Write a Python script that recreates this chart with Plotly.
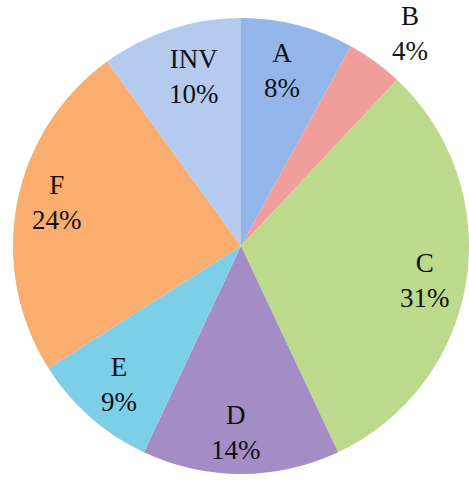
import math
import plotly.graph_objects as go

# Share of each category (percent)
categories = ["A", "B", "C", "D", "E", "F", "INV"]
shares = [8, 4, 31, 14, 9, 24, 10]
colors = ["#94b6ea", "#ef9e9b", "#bcd98c", "#a48cc4", "#7dcfe8", "#f9ad6e", "#b4cbef"]
# label placement: radius as a fraction of the pie radius, and a small
# angular nudge (degrees) away from each slice's bisector
label_radius = [0.79, 1.19, 0.82, 0.82, 0.81, 0.83, 0.77]
label_nudge = [-1.2, 2.6, 1.5, 1.5, 0.0, 2.6, 2.5]

W, H = 469, 483
margin = dict(l=13, r=0, t=17, b=8)
plot_w = W - margin["l"] - margin["r"]
plot_h = H - margin["t"] - margin["b"]
R_px = min(plot_w, plot_h) / 2

fig = go.Figure(
    go.Pie(
        labels=categories,
        values=shares,
        sort=False,
        direction="clockwise",
        rotation=0,
        marker=dict(colors=colors, line=dict(width=0)),
        textinfo="none",
        hoverinfo="label+percent",
        showlegend=False,
    )
)

# Category / percent labels placed along each slice's bisector
total = sum(shares)
cum = 0
annotations = []
for cat, val, rf, nudge in zip(categories, shares, label_radius, label_nudge):
    mid = (cum + val / 2) / total * 2 * math.pi + math.radians(nudge)
    cum += val
    dx = rf * R_px * math.sin(mid)
    dy = rf * R_px * math.cos(mid)
    annotations.append(
        dict(
            x=0.5 + dx / plot_w,
            y=0.5 + dy / plot_h,
            xref="paper",
            yref="paper",
            text=f"{cat}<br>{round(val / total * 100)}%",
            showarrow=False,
            xanchor="center",
            yanchor="middle",
            font=dict(family="Liberation Serif", size=27, color="#111111"),
        )
    )

fig.update_layout(
    width=W,
    height=H,
    margin=margin,
    paper_bgcolor="white",
    plot_bgcolor="white",
    annotations=annotations,
)

fig.write_html("out.html")
